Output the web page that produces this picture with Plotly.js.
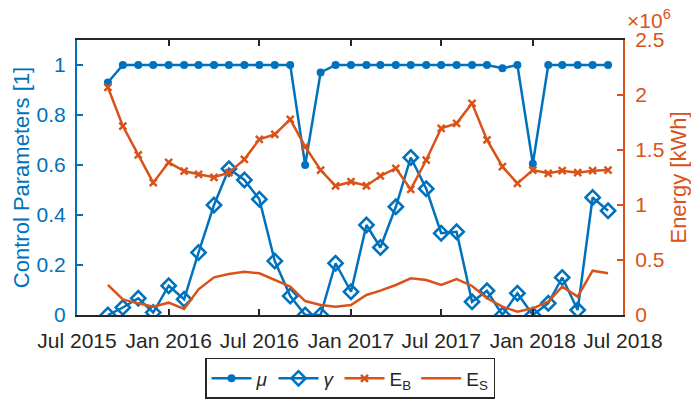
<!DOCTYPE html>
<html>
<head>
<meta charset="utf-8">
<script src="https://cdn.plot.ly/plotly-3.0.1.min.js"></script>
<style>
  html, body { margin: 0; padding: 0; background: #fff; }
  #chart { width: 691px; height: 401px; }
</style>
</head>
<body>
<div id="chart"></div>
<script>
// ─── Data (monthly, Sep 2015 – Jun 2018) ──────────────────────────────────────
const months = [
    '2015-09-01', '2015-10-01', '2015-11-01', '2015-12-01',
    '2016-01-01', '2016-02-01', '2016-03-01', '2016-04-01', '2016-05-01', '2016-06-01',
    '2016-07-01', '2016-08-01', '2016-09-01', '2016-10-01', '2016-11-01', '2016-12-01',
    '2017-01-01', '2017-02-01', '2017-03-01', '2017-04-01', '2017-05-01', '2017-06-01',
    '2017-07-01', '2017-08-01', '2017-09-01', '2017-10-01', '2017-11-01', '2017-12-01',
    '2018-01-01', '2018-02-01', '2018-03-01', '2018-04-01', '2018-05-01', '2018-06-01',
];

// control parameters [1]
const mu = [
    0.93, 1, 1, 1,
    1, 1, 1, 1, 1, 1,
    1, 1, 1, 0.60, 0.97, 1,
    1, 1, 1, 1, 1, 1,
    1, 1, 1, 1, 0.987, 1,
    0.605, 1, 1, 1, 1, 1,
];
const gamma = [
    0, 0.03, 0.067, 0.01,
    0.117, 0.063, 0.25, 0.44, 0.585, 0.54,
    0.463, 0.216, 0.076, 0, 0, 0.207,
    0.093, 0.36, 0.27, 0.433, 0.63, 0.505,
    0.327, 0.333, 0.053, 0.097, 0, 0.087,
    0, 0.047, 0.15, 0.02, 0.47, 0.417,
];

// energy [kWh]
const energyB = [
    2070000, 1718000, 1455000, 1203000,
    1388000, 1309000, 1279000, 1252000, 1294000, 1415000,
    1597000, 1642000, 1779000, 1530000, 1318000, 1173000,
    1212000, 1175000, 1264000, 1333000, 1142000, 1409000,
    1697000, 1742000, 1924000, 1591000, 1348000, 1197000,
    1318000, 1288000, 1312000, 1294000, 1312000, 1318000,
];
const energyS = [
    273000, 142000, 106000, 76000,
    112000, 55000, 233000, 342000, 373000, 394000,
    379000, 318000, 258000, 127000, 91000, 76000,
    91000, 182000, 221000, 273000, 333000, 318000,
    273000, 327000, 264000, 152000, 76000, 30000,
    61000, 121000, 258000, 167000, 403000, 379000,
];

const xTickVals = ['2015-07-01', '2016-01-01', '2016-07-01', '2017-01-01', '2017-07-01', '2018-01-01', '2018-07-01'];
const xTickText = ['Jul 2015', 'Jan 2016', 'Jul 2016', 'Jan 2017', 'Jul 2017', 'Jan 2018', 'Jul 2018'];
const yTickVals = [0, 0.2, 0.4, 0.6, 0.8, 1];
const yTickText = ['0', '0.2', '0.4', '0.6', '0.8', '1'];
const y2TickVals = [0, 500000, 1000000, 1500000, 2000000, 2500000];
const y2TickText = ['0', '0.5', '1', '1.5', '2', '2.5'];

// ─── Styling ──────────────────────────────────────────────────────────────────
const BLUE = '#0072BD';
const ORANGE = '#D95319';
const DARK = '#262626';
const FONT = 'Liberation Sans, Arial, sans-serif';

const traces = [
    {
        type: 'scatter', mode: 'lines+markers',
        x: months, y: mu, name: '<i>μ</i>', yaxis: 'y',
        line: { color: BLUE, width: 2.5 },
        marker: { symbol: 'circle', size: 8, color: BLUE },
    },
    {
        type: 'scatter', mode: 'lines+markers',
        x: months, y: gamma, name: '<i>γ</i>', yaxis: 'y',
        line: { color: BLUE, width: 2.5 },
        marker: { symbol: 'diamond-open', size: 11, color: BLUE, line: { width: 2.5, color: BLUE } },
    },
    {
        type: 'scatter', mode: 'lines+markers',
        x: months, y: energyB, name: 'E<sub>B</sub>', yaxis: 'y2',
        line: { color: ORANGE, width: 2.5 },
        marker: { symbol: 'x-thin-open', size: 7, color: ORANGE, line: { width: 2.5, color: ORANGE } },
    },
    {
        type: 'scatter', mode: 'lines',
        x: months, y: energyS, name: 'E<sub>S</sub>', yaxis: 'y2',
        line: { color: ORANGE, width: 2.5 },
    },
];

const layout = {
    width: 691,
    height: 401,
    paper_bgcolor: '#ffffff',
    plot_bgcolor: '#ffffff',
    font: { family: FONT, size: 21, color: DARK },
    margin: { l: 77, r: 68, t: 40, b: 86 },
    showlegend: true,
    legend: {
        orientation: 'h',
        xref: 'paper', yref: 'container',
        x: 0.5, xanchor: 'center',
        y: 0.005, yanchor: 'bottom',
        bordercolor: DARK, borderwidth: 1.5,
        bgcolor: '#ffffff',
        font: { family: FONT, size: 19, color: DARK },
        itemwidth: 40,
        tracegroupgap: 0,
    },
    xaxis: {
        type: 'date',
        range: ['2015-07-01', '2018-07-01'],
        tickvals: xTickVals,
        ticktext: xTickText,
        tickangle: 0,
        showgrid: false,
        zeroline: false,
        showline: true,
        linecolor: DARK,
        linewidth: 2,
        mirror: 'ticks',
        ticks: 'inside',
        ticklen: 6,
        tickwidth: 2,
        tickcolor: DARK,
        ticklabelstandoff: 6,
        tickfont: { family: FONT, size: 21, color: DARK },
        automargin: false,
    },
    yaxis: {
        range: [0, 1.1],
        tickvals: yTickVals,
        ticktext: yTickText,
        showgrid: false,
        zeroline: false,
        showline: true,
        linecolor: BLUE,
        linewidth: 2,
        ticks: 'inside',
        ticklen: 6,
        tickwidth: 2,
        tickcolor: BLUE,
        ticklabelstandoff: 5,
        tickfont: { family: FONT, size: 21, color: BLUE },
        title: { text: 'Control Parameters [1]', font: { family: FONT, size: 22, color: BLUE }, standoff: 1 },
        automargin: false,
    },
    yaxis2: {
        overlaying: 'y',
        side: 'right',
        range: [0, 2500000],
        tickvals: y2TickVals,
        ticktext: y2TickText,
        showgrid: false,
        zeroline: false,
        showline: true,
        linecolor: ORANGE,
        linewidth: 2,
        ticks: 'inside',
        ticklen: 6,
        tickwidth: 2,
        tickcolor: ORANGE,
        ticklabelstandoff: 6,
        tickfont: { family: FONT, size: 21, color: ORANGE },
        title: { text: 'Energy [kWh]', font: { family: FONT, size: 22, color: ORANGE }, standoff: 14 },
        automargin: false,
    },
    annotations: [
        {
            xref: 'paper', yref: 'paper',
            x: 1.0, y: 1.0,
            xanchor: 'left', yanchor: 'bottom',
            xshift: 2, yshift: 6,
            text: '×10<sup>6</sup>',
            showarrow: false,
            font: { family: FONT, size: 21, color: ORANGE },
        },
    ],
};

Plotly.newPlot('chart', traces, layout, { displayModeBar: false, responsive: false });
</script>
</body>
</html>
